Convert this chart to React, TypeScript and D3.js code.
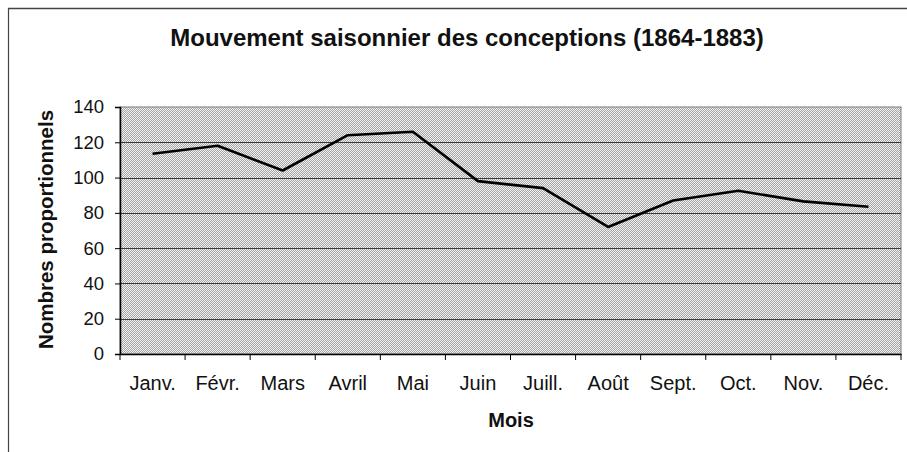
import React, { useEffect, useRef } from 'react';
import { select, scaleBand, scaleLinear, line, axisLeft, axisBottom } from 'd3';

const months = ['Janv.', 'Févr.', 'Mars', 'Avril', 'Mai', 'Juin', 'Juill.', 'Août', 'Sept.', 'Oct.', 'Nov.', 'Déc.'];
const values = [113.5, 118, 104, 124, 126, 98, 94, 72, 87, 92.5, 86.5, 83.5];
const yTicks = [0, 20, 40, 60, 80, 100, 120, 140];

const title = 'Mouvement saisonnier des conceptions (1864-1883)';
const xTitle = 'Mois';
const yTitle = 'Nombres proportionnels';

const LineChart: React.FC = () => {
    const svgRef = useRef<SVGSVGElement>(null);

    useEffect(() => {
        if (!svgRef.current) return;
        const width = 907;
        const height = 452;
        const margin = { top: 107, right: 6, bottom: 98, left: 120 };
        const chartWidth = width - margin.left - margin.right;
        const chartHeight = height - margin.top - margin.bottom;
        const font = 'Liberation Sans, Arial, sans-serif';

        const svg = select(svgRef.current);
        svg.html('');
        svg.attr('width', width).attr('height', height);

        // dotted fill like the scanned grey background
        const defs = svg.append('defs');
        const pat = defs.append('pattern')
            .attr('id', 'dots')
            .attr('width', 2)
            .attr('height', 2)
            .attr('patternUnits', 'userSpaceOnUse');
        pat.append('rect').attr('width', 2).attr('height', 2).attr('fill', '#f2f2f2');
        pat.append('rect').attr('x', 0).attr('y', 0).attr('width', 1).attr('height', 1).attr('fill', '#a4a4a4');
        pat.append('rect').attr('x', 1).attr('y', 1).attr('width', 1).attr('height', 1).attr('fill', '#a4a4a4');

        svg.append('rect').attr('width', width).attr('height', height).attr('fill', '#ffffff');

        // outer frame (top + left only visible)
        svg.append('line')
            .attr('x1', 8).attr('x2', width).attr('y1', 8.5).attr('y2', 8.5)
            .attr('stroke', '#444').attr('stroke-width', 1.5);
        svg.append('line')
            .attr('x1', 8.5).attr('x2', 8.5).attr('y1', 8).attr('y2', height)
            .attr('stroke', '#444').attr('stroke-width', 1.2);

        const chart = svg.append('g').attr('transform', `translate(${margin.left}, ${margin.top})`);

        const x = scaleBand<string>().domain(months).range([0, chartWidth]).padding(0);
        const y = scaleLinear().domain([0, 140]).range([chartHeight, 0]);

        chart.append('rect')
            .attr('width', chartWidth)
            .attr('height', chartHeight)
            .attr('fill', 'url(#dots)')
            .attr('stroke', '#7a7a7a')
            .attr('stroke-width', 1);

        // gridlines
        chart.append('g')
            .selectAll('line')
            .data(yTicks.filter(t => t > 0 && t < 140))
            .enter()
            .append('line')
            .attr('x1', 0)
            .attr('x2', chartWidth)
            .attr('y1', d => Math.round(y(d)) + 0.5)
            .attr('y2', d => Math.round(y(d)) + 0.5)
            .attr('stroke', '#3a3a3a')
            .attr('stroke-width', 1);

        // y axis
        const yAxis = chart.append('g')
            .call(axisLeft(y).tickValues(yTicks).tickSize(5).tickPadding(11));
        yAxis.select('.domain').attr('stroke', '#000').attr('stroke-width', 1.5);
        yAxis.selectAll('.tick line').attr('stroke', '#000');
        yAxis.selectAll('.tick text')
            .style('font-family', font)
            .style('font-size', '18.5px')
            .attr('fill', '#111');

        // x axis, ticks on band boundaries
        const xAxis = chart.append('g')
            .attr('transform', `translate(0, ${chartHeight})`)
            .call(axisBottom(x).tickSize(0).tickPadding(22));
        xAxis.select('.domain').attr('stroke', '#000').attr('stroke-width', 1.5);
        xAxis.selectAll('.tick text')
            .style('font-family', font)
            .style('font-size', '20px')
            .attr('fill', '#111');
        xAxis.append('g')
            .selectAll('line')
            .data(months.concat(['end']))
            .enter()
            .append('line')
            .attr('x1', (d, i) => i * x.step())
            .attr('x2', (d, i) => i * x.step())
            .attr('y1', 0)
            .attr('y2', 6)
            .attr('stroke', '#000');

        // series
        const path = line<number>()
            .x((d, i) => x(months[i])! + x.bandwidth() / 2)
            .y(d => y(d));
        chart.append('path')
            .datum(values)
            .attr('d', path)
            .attr('fill', 'none')
            .attr('stroke', '#000')
            .attr('stroke-width', 2.6)
            .attr('stroke-linejoin', 'round');

        // titles
        svg.append('text')
            .attr('x', 467)
            .attr('y', 46)
            .attr('text-anchor', 'middle')
            .style('font-family', font)
            .style('font-size', '24px')
            .style('font-weight', 'bold')
            .attr('fill', '#111')
            .text(title);

        svg.append('text')
            .attr('x', 511)
            .attr('y', 427)
            .attr('text-anchor', 'middle')
            .style('font-family', font)
            .style('font-size', '20px')
            .style('font-weight', 'bold')
            .attr('fill', '#111')
            .text(xTitle);

        svg.append('text')
            .attr('transform', `translate(53, ${margin.top + chartHeight / 2 - 1}) rotate(-90)`)
            .attr('text-anchor', 'middle')
            .style('font-family', font)
            .style('font-size', '20.5px')
            .style('font-weight', 'bold')
            .attr('fill', '#111')
            .text(yTitle);
    }, []);

    return <svg ref={svgRef} style={{ position: 'absolute', left: 0, top: 0, display: 'block' }}></svg>;
};

export default function App() {
    return <LineChart />;
}
